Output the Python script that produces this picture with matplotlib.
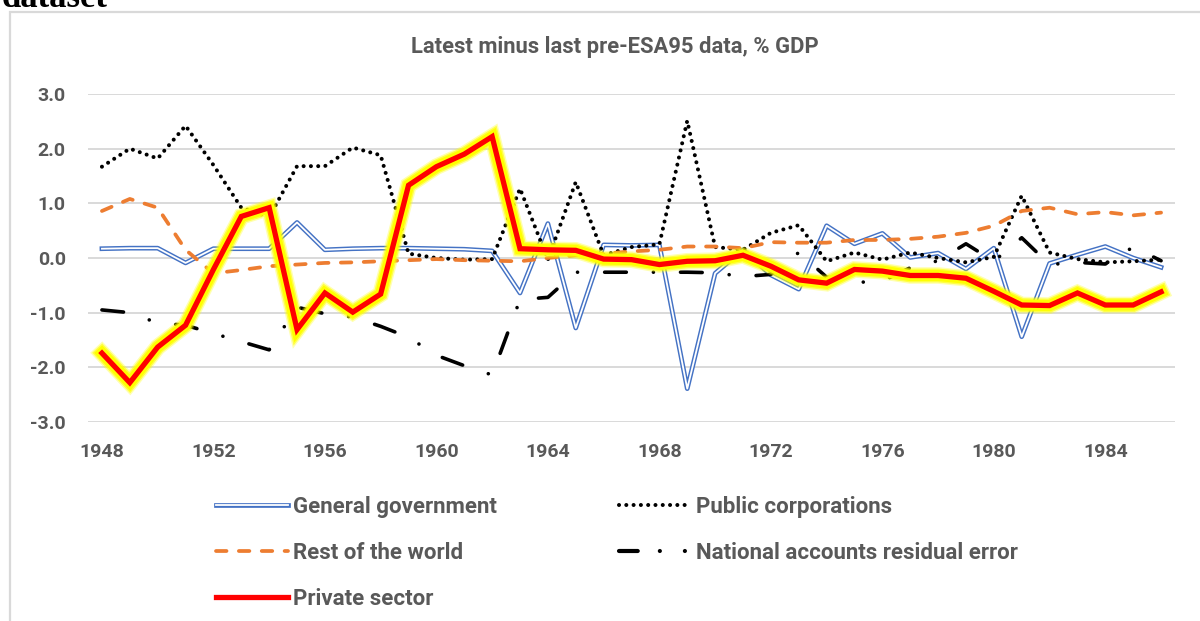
import matplotlib
matplotlib.use("Agg")
import matplotlib.pyplot as plt
import matplotlib.patheffects as pe
from matplotlib.lines import Line2D
from matplotlib.patches import Rectangle
import numpy as np

years = list(range(1948, 1987))
tick_years = list(range(1948, 1987, 4))
y_ticks = [3.0, 2.0, 1.0, 0.0, -1.0, -2.0, -3.0]

general_government = [0.17, 0.18, 0.18, -0.09, 0.17, 0.17, 0.17, 0.65, 0.15, 0.17,
                      0.18, 0.18, 0.17, 0.16, 0.13, -0.64, 0.63, -1.28, 0.24, 0.23,
                      0.24, -2.39, -0.28, 0.15, -0.31, -0.57, 0.59, 0.26, 0.45, 0.01,
                      0.09, -0.20, 0.18, -1.44, -0.10, 0.06, 0.21, 0.00, -0.17]
public_corporations = [1.67, 2.00, 1.82, 2.42, 1.70, 0.92, 0.75, 1.68, 1.68, 2.02,
                       1.88, 0.08, 0.00, -0.03, -0.02, 1.27, -0.03, 1.39, 0.05, 0.20,
                       0.25, 2.51, 0.20, 0.15, 0.46, 0.60, -0.06, 0.10, -0.03, 0.10,
                       0.00, -0.08, 0.02, 1.14, 0.10, -0.02, -0.08, -0.06, -0.03]
rest_of_world = [0.86, 1.08, 0.92, 0.15, -0.28, -0.22, -0.15, -0.12, -0.09, -0.08,
                 -0.06, -0.04, -0.02, -0.04, -0.05, -0.06, 0.00, 0.05, 0.08, 0.12,
                 0.15, 0.21, 0.21, 0.18, 0.29, 0.28, 0.28, 0.33, 0.33, 0.35,
                 0.39, 0.46, 0.59, 0.86, 0.92, 0.80, 0.84, 0.78, 0.83]
residual_error = [-0.95, -1.00, -1.19, -1.23, -1.38, -1.53, -1.68, -0.90, -1.02, -1.08,
                  -1.25, -1.45, -1.78, -1.97, -2.14, -0.76, -0.72, -0.26, -0.26, -0.26,
                  -0.26, -0.26, -0.27, -0.34, -0.30, 0.10, -0.35, -0.45, -0.42, -0.18,
                  -0.05, 0.26, -0.06, 0.37, -0.12, -0.08, -0.11, 0.20, -0.05]
private_sector = [-1.74, -2.28, -1.63, -1.23, -0.21, 0.76, 0.92, -1.31, -0.64, -0.99,
                  -0.66, 1.33, 1.67, 1.90, 2.22, 0.17, 0.15, 0.14, -0.02, -0.03,
                  -0.12, -0.06, -0.05, 0.05, -0.15, -0.40, -0.46, -0.21, -0.24, -0.32,
                  -0.32, -0.37, -0.61, -0.86, -0.87, -0.64, -0.86, -0.86, -0.62]

FONT = "Roboto"
GREY = "#595959"
BLUE = "#4472C4"
ORANGE = "#ED7D31"

W, H = 1200, 621
fig = plt.figure(figsize=(W / 100, H / 100), dpi=100)
ax = fig.add_axes([88 / W, 1 - 422 / H, (1175 - 88) / W, (422 - 94) / H])

x = np.arange(len(years))

# double compound line for general government
gg_fx = [pe.Stroke(linewidth=3.4, foreground=BLUE), pe.Normal()]
ax.plot(x, general_government, color="white", lw=1.3, path_effects=gg_fx, zorder=3)

ax.plot(x, public_corporations, color="black", lw=2.9, linestyle=(0, (0.01, 1.8)),
        dash_capstyle="round", zorder=4)
ax.plot(x, rest_of_world, color=ORANGE, lw=2.7, linestyle=(0, (2.8, 3.3)),
        dash_capstyle="round", zorder=4)
ax.plot(x, residual_error, color="black", lw=2.6, linestyle=(0, (6.0, 7.5, 0.01, 7.5)),
        dash_capstyle="round", solid_capstyle="round", zorder=4)

glow = [pe.Stroke(linewidth=12, foreground="#FFFF00", alpha=0.3),
        pe.Stroke(linewidth=10, foreground="#FFFF00", alpha=0.6),
        pe.Stroke(linewidth=8, foreground="#FFFF00"),
        pe.Normal()]
ax.plot(x, private_sector, color="#FF0000", lw=3.8, path_effects=glow,
        solid_joinstyle="miter", zorder=5)

ax.set_xlim(-0.5, len(years) - 0.5)
ax.set_ylim(-3, 3)
ax.set_yticks(y_ticks)
ax.set_yticklabels([f"{v:.1f}" for v in y_ticks])
ax.set_xticks([years.index(t) for t in tick_years])
ax.set_xticklabels([str(t) for t in tick_years])
ax.tick_params(length=0, labelsize=14, labelcolor=GREY)
ax.tick_params(axis="y", pad=16)
ax.tick_params(axis="x", pad=15)
for lab in ax.get_xticklabels() + ax.get_yticklabels():
    lab.set_fontfamily(FONT)
    lab.set_fontweight("bold")
ax.grid(axis="y", color="#D9D9D9", lw=1.4)
ax.set_axisbelow(True)
for s in ax.spines.values():
    s.set_visible(False)

fig.text(615 / W, 1 - 47 / H, "Latest minus last pre-ESA95 data, % GDP", ha="center",
         va="center", fontsize=15.8, fontweight="bold", color=GREY, family=FONT)

# cropped heading above the chart frame
fig.text(2 / W, 1 - 7 / H, "dataset", ha="left", va="baseline", fontsize=25,
         fontweight="bold", family="Liberation Serif", color="black")

fig.add_artist(Rectangle((10 / W, -0.05), 1.1, 1 - 12 / H + 0.05, transform=fig.transFigure,
                         fill=False, edgecolor="#D9D9D9", lw=1.6))

handles = [
    Line2D([], [], color="white", lw=1.3, path_effects=gg_fx),
    Line2D([], [], color=ORANGE, lw=2.7, linestyle=(0, (2.8, 3.3)), dash_capstyle="round"),
    Line2D([], [], color="#FF0000", lw=3.8),
    Line2D([], [], color="black", lw=2.9, linestyle=(0, (0.01, 1.8)), dash_capstyle="round"),
    Line2D([], [], color="black", lw=3.0, linestyle=(0, (4.5, 5.3, 0.01, 6.0, 0.01, 5.0)),
           dash_capstyle="round"),
]
labels = ["General government", "Rest of the world", "Private sector",
          "Public corporations", "National accounts residual error"]
leg = fig.legend(handles, labels, loc="upper left", bbox_to_anchor=(196 / W, 1 - 476 / H),
                 ncol=2, frameon=False, handlelength=3.25, handletextpad=0.22,
                 columnspacing=5.5, labelspacing=1.08,
                 prop={"family": FONT, "weight": "bold", "size": 16})
for t in leg.get_texts():
    t.set_color(GREY)

fig.savefig("out.png", dpi=100)
